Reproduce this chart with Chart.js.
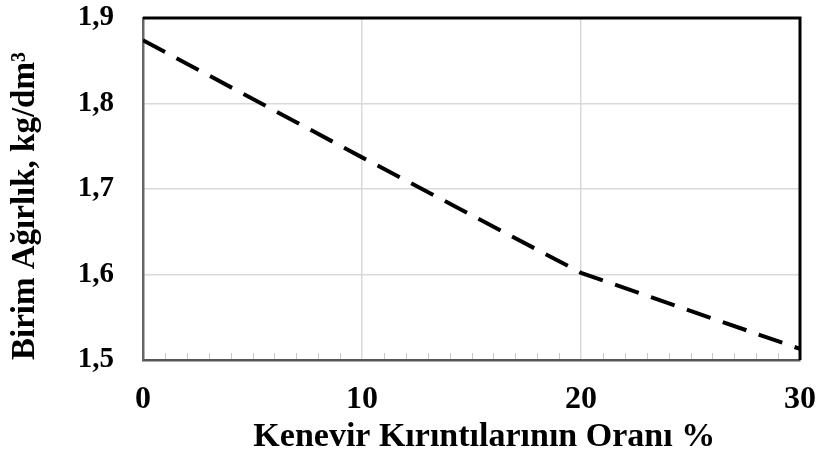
<!DOCTYPE html>
<html>
<head>
<meta charset="utf-8">
<script src="https://cdn.jsdelivr.net/npm/chart.js@4.4.1/dist/chart.umd.min.js"></script>
<style>
  html, body { margin: 0; padding: 0; background: #fff; overflow: hidden; }
  #wrap { width: 818px; height: 462px; }
</style>
</head>
<body>
<div id="wrap"><canvas id="chart"></canvas></div>
<script>
// Kenevir kırıntısı oranına göre birim ağırlık
const oranlar = [0, 10, 20, 30];
const birimAgirlik = [1.874, 1.737, 1.602, 1.513];
const xTicks = [0, 10, 20, 30];
const yTicks = [1.5, 1.6, 1.7, 1.8, 1.9];

const serif = "'Liberation Serif', 'Times New Roman', serif";

// üst/sağ çerçeve ve alt eksendeki ara çentikler
const frame = {
  id: 'frame',
  afterDraw(chart) {
    const { ctx, chartArea: a, scales } = chart;
    ctx.save();
    ctx.strokeStyle = '#c8c8c8';
    ctx.lineWidth = 1;
    for (let v = 1; v < 30; v++) {
      if (v % 10 === 0) continue;
      const x = Math.round(scales.x.getPixelForValue(v)) + 0.5;
      ctx.beginPath();
      ctx.moveTo(x, a.bottom - 1);
      ctx.lineTo(x, a.bottom - 7);
      ctx.stroke();
    }
    ctx.strokeStyle = '#000';
    ctx.lineWidth = 3;
    ctx.beginPath();
    ctx.moveTo(a.left, a.top);
    ctx.lineTo(a.right, a.top);
    ctx.lineTo(a.right, a.bottom);
    ctx.stroke();
    ctx.restore();
  }
};

// eksenlerin kendi iç boşluklarını sıfırla, çizim alanı sabit kalsın
function noPad(s) {
  s.paddingTop = 0; s.paddingBottom = 0; s.paddingLeft = 0; s.paddingRight = 0;
}

new Chart(document.getElementById('chart'), {
  type: 'line',
  data: {
    datasets: [{
      data: oranlar.map((x, i) => ({ x: x, y: birimAgirlik[i] })),
      borderColor: '#000',
      borderWidth: 4,
      borderDash: [25, 13],
      pointRadius: 0,
      tension: 0,
      fill: false
    }]
  },
  options: {
    responsive: true,
    maintainAspectRatio: false,
    animation: false,
    layout: { padding: { top: 18, right: 18, left: 0, bottom: 0 } },
    plugins: { legend: { display: false }, tooltip: { enabled: false } },
    scales: {
      x: {
        type: 'linear',
        min: 0, max: 30,
        afterBuildTicks: s => { s.ticks = xTicks.map(v => ({ value: v })); },
        afterFit: s => { s.height = 102; noPad(s); },
        grid: { color: '#d9d9d9', lineWidth: 1.5, drawTicks: false },
        border: { color: '#555', width: 2.5 },
        ticks: {
          padding: 21,
          color: '#000',
          font: { family: serif, size: 32, weight: 'bold' }
        },
        title: {
          display: true,
          text: '   Kenevir Kırıntılarının Oranı %',
          color: '#000',
          font: { family: serif, size: 34, weight: 'bold' },
          padding: { top: 0, bottom: 4 }
        }
      },
      y: {
        min: 1.5, max: 1.9,
        afterBuildTicks: s => { s.ticks = yTicks.map(v => ({ value: v })); },
        afterFit: s => { s.width = 143; noPad(s); },
        grid: { color: '#d9d9d9', lineWidth: 1.5, drawTicks: false },
        border: { color: '#666', width: 2.5 },
        ticks: {
          padding: 29,
          color: '#000',
          font: { family: serif, size: 29, weight: 'bold' },
          callback: v => v.toFixed(1).replace('.', ',')
        },
        title: {
          display: true,
          text: 'Birim Ağırlık, kg/dm³',
          align: 'start',
          color: '#000',
          font: { family: serif, size: 33, weight: 'bold' },
          padding: { top: 6, bottom: 0 }
        }
      }
    }
  },
  plugins: [frame]
});
</script>
</body>
</html>
